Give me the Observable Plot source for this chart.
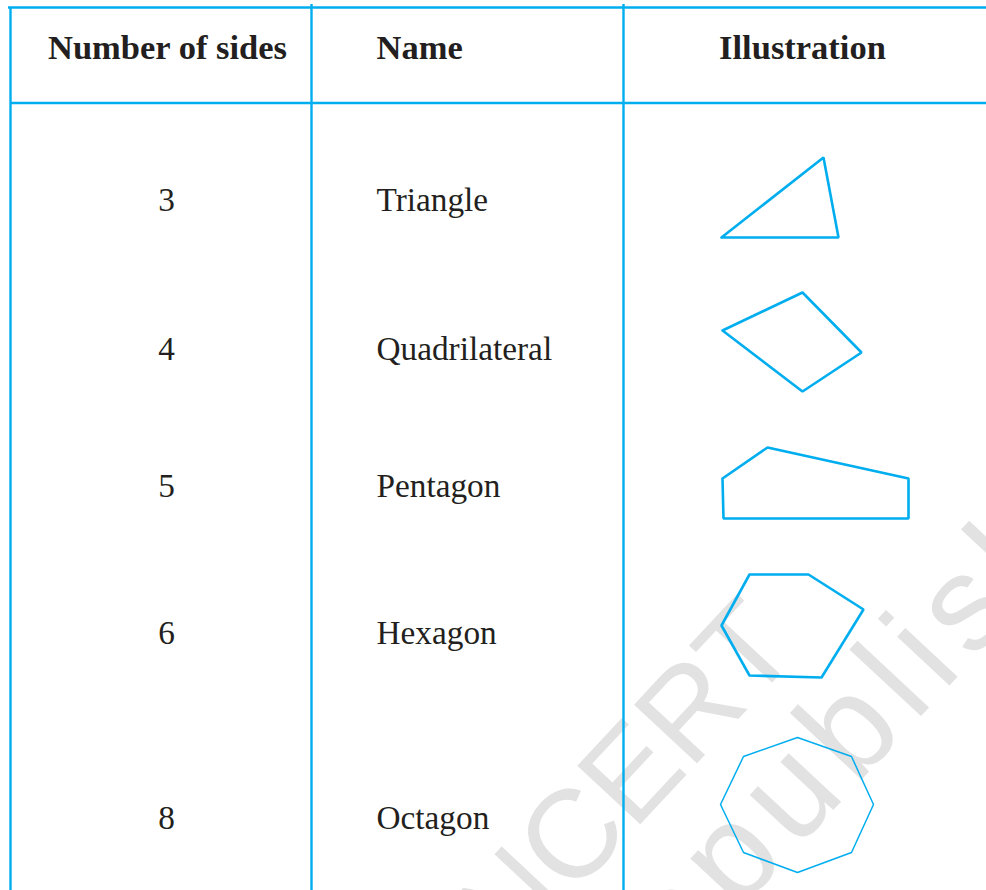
<!DOCTYPE html>
<html>
<head>
<meta charset="utf-8">
<script src="https://cdn.jsdelivr.net/npm/d3@7"></script>
<script src="https://cdn.jsdelivr.net/npm/@observablehq/plot@0.6"></script>
<style>
  html, body { margin: 0; padding: 0; background: #fff; }
  #chart svg { display: block; }
</style>
</head>
<body>
<div id="chart"></div>
<script>
// ---- data ----
const headers = ["Number of sides", "Name", "Illustration"];
const sides = [3, 4, 5, 6, 8];
const names = ["Triangle", "Quadrilateral", "Pentagon", "Hexagon", "Octagon"];
// polygon vertices (picture units)
const triangle = [[721, 237], [823, 157], [838, 237]];
const quadrilateral = [[722, 330], [802, 292], [861, 352], [802, 391]];
const pentagon = [[722, 478], [767, 447], [908, 478], [908, 518], [723, 518]];
const hexagon = [[749, 574], [808, 574], [863, 609], [821, 677], [749, 675], [721, 625]];
const octagon = [[797, 737], [851, 756], [873, 804], [851, 852], [797, 872], [743, 852], [720, 804], [743, 756]];
const watermark = ["© NCERT", "not to be republished"];

// ---- layout ----
const W = 986, H = 890;
const blue = "#00aeef", ink = "#231f20";
const serif = "Liberation Serif, Times New Roman, serif";
const sans = "Liberation Sans, Arial, sans-serif";
const colX = [10, 311, 623, W];
const rowY = [200, 349, 486, 633, 818];
const headerY = 47;

const shapes = [triangle, quadrilateral, pentagon, hexagon, octagon];
const polyPts = shapes.flatMap((pts, i) =>
  [...pts, pts[0]].map(([x, y]) => ({x, y, shape: names[i], thin: sides[i] === 8})));

const headerCenter = [{t: headers[0], x: 167}, {t: headers[2], x: 802}];
const headerStart = [{t: headers[1], x: 376}];
const bodyRows = sides.map((s, i) => ({s: String(s), name: names[i], y: rowY[i]}));

// watermark: rotated diagonal text, baseline start points (mostly off-picture)
const ang = -47;
const wm1 = [{t: watermark[0], x: 423, y: 1056}];
const wm2 = [{t: watermark[1], x: 172, y: 1518}];

const hRules = [{y: 7, x1: 8, x2: W}, {y: 102.5, x1: 10, x2: W}];
const vRules = [{x: colX[0], y1: 7, y2: H}, {x: colX[1], y1: 4, y2: H}, {x: colX[2], y1: 4, y2: H}];

const plot = Plot.plot({
  width: W,
  height: H,
  margin: 0,
  x: {domain: [0, W], range: [0, W], axis: null},
  y: {domain: [0, H], range: [0, H], axis: null},
  style: {background: "#fff"},
  marks: [
    Plot.text(wm1, {x: "x", y: "y", text: "t", rotate: ang, textAnchor: "start", lineAnchor: "bottom",
      fontSize: 125, fontFamily: sans, fill: "#e2e2e2"}),
    Plot.text(wm2, {x: "x", y: "y", text: "t", rotate: ang, textAnchor: "start", lineAnchor: "bottom",
      fontSize: 135, fontFamily: sans, fill: "#e2e2e2"}),
    Plot.ruleY(hRules, {y: "y", x1: "x1", x2: "x2", stroke: blue, strokeWidth: 2.6}),
    Plot.ruleX(vRules, {x: "x", y1: "y1", y2: "y2", stroke: blue, strokeWidth: 2.4}),
    Plot.line(polyPts.filter(d => !d.thin), {x: "x", y: "y", z: "shape", stroke: blue, strokeWidth: 2.6, strokeLinejoin: "miter"}),
    Plot.line(polyPts.filter(d => d.thin), {x: "x", y: "y", z: "shape", stroke: blue, strokeWidth: 1.5, strokeLinejoin: "miter"}),
    Plot.text(headerCenter, {x: "x", y: () => headerY, text: "t", textAnchor: "middle", lineAnchor: "middle",
      fontSize: 34.5, fontWeight: "bold", fontFamily: serif, fill: ink}),
    Plot.text(headerStart, {x: "x", y: () => headerY, text: "t", textAnchor: "start", lineAnchor: "middle",
      fontSize: 34.5, fontWeight: "bold", fontFamily: serif, fill: ink}),
    Plot.text(bodyRows, {x: () => 166, y: "y", text: "s", textAnchor: "middle", lineAnchor: "middle",
      fontSize: 33.3, fontFamily: serif, fill: ink}),
    Plot.text(bodyRows, {x: () => 376, y: "y", text: "name", textAnchor: "start", lineAnchor: "middle",
      fontSize: 33.3, fontFamily: serif, fill: ink})
  ]
});
// the second watermark line is letter-spaced in the reference
d3.select(plot).selectAll("text")
  .filter(function() { return this.textContent === watermark[1]; })
  .attr("letter-spacing", 12);
document.getElementById("chart").appendChild(plot);
</script>
</body>
</html>
